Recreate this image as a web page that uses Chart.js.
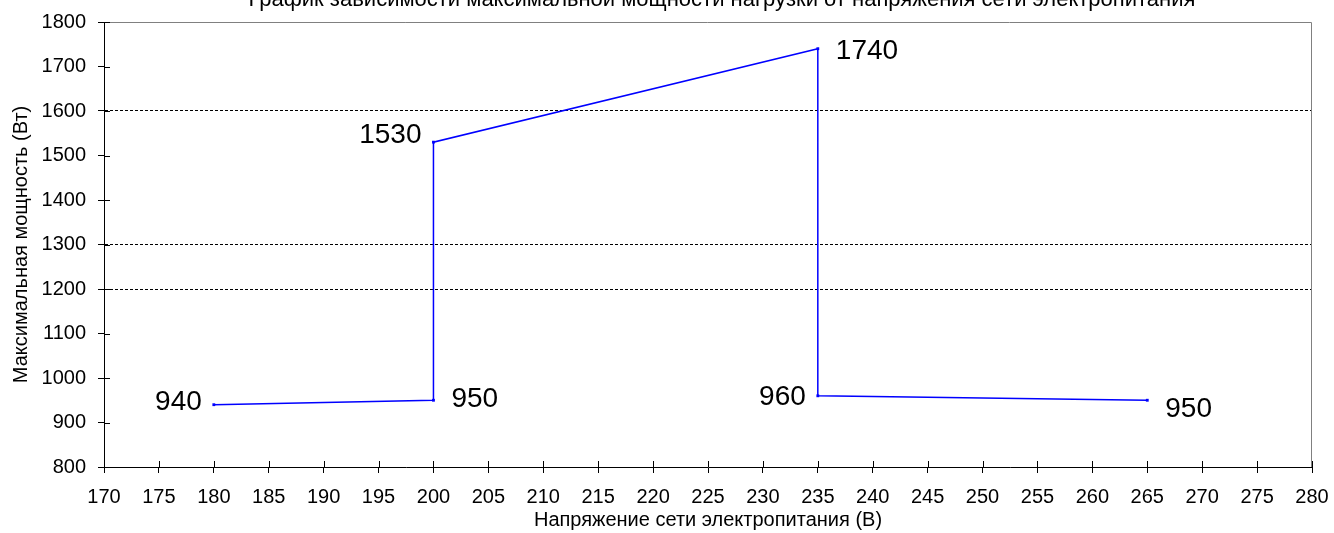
<!DOCTYPE html>
<html>
<head>
<meta charset="utf-8">
<script src="https://cdn.jsdelivr.net/npm/chart.js@4.4.0/dist/chart.umd.min.js"></script>
<style>
  html, body { margin: 0; padding: 0; background: #fff; }
  #wrap { width: 1334px; height: 533px; }
</style>
</head>
<body>
<div id="wrap"><canvas id="chart" width="1334" height="533"></canvas></div>
<script>
const voltage = [180, 200, 200, 235, 235, 265];
const power = [940, 950, 1530, 1740, 960, 950];
const labelSide = ['left', 'right', 'left', 'right', 'left', 'right'];
const labelNudge = [-2, -1, -7, 3, 1, 9];
const xTicks = { min: 170, max: 280, step: 5 };
const yTicks = { min: 800, max: 1800, step: 100 };
const gridAt = [1200, 1300, 1600];

const titleText = 'График зависимости максимальной мощности нагрузки от напряжения сети электропитания';
const xTitle = 'Напряжение сети электропитания (В)';
const yTitle = 'Максимальная мощность (Вт)';

const font = 'Liberation Sans, Arial, sans-serif';

// заголовок, рамка и внутренние половинки делений
const extras = {
  id: 'extras',
  afterDraw(chart) {
    const c = chart.ctx;
    const a = chart.chartArea;
    c.save();
    c.strokeStyle = '#808080';
    c.lineWidth = 1;
    c.beginPath();
    c.moveTo(a.left, a.top + 0.5);
    c.lineTo(a.right - 0.5, a.top + 0.5);
    c.lineTo(a.right - 0.5, a.bottom);
    c.stroke();

    c.strokeStyle = '#000';
    c.beginPath();
    chart.scales.y.ticks.forEach(t => {
      const y = Math.round(chart.scales.y.getPixelForValue(t.value)) + 0.5;
      c.moveTo(a.left, y);
      c.lineTo(a.left + 6, y);
    });
    chart.scales.x.ticks.forEach(t => {
      const x = Math.round(chart.scales.x.getPixelForValue(t.value)) + 0.5;
      c.moveTo(x, a.bottom);
      c.lineTo(x, a.bottom - 6);
    });
    c.stroke();

    c.fillStyle = '#000';
    c.font = '22px ' + font;
    c.textAlign = 'center';
    c.textBaseline = 'alphabetic';
    c.fillText(titleText, 722, 6);

    // подписи значений
    const meta = chart.getDatasetMeta(0);
    c.font = '28px ' + font;
    c.textBaseline = 'middle';
    meta.data.forEach((pt, i) => {
      const left = labelSide[i] === 'left';
      c.textAlign = left ? 'right' : 'left';
      c.fillText(String(power[i]), pt.x + (left ? -12 : 18), pt.y + labelNudge[i]);
    });
    c.restore();
  }
};

new Chart(document.getElementById('chart'), {
  type: 'scatter',
  data: {
    datasets: [{
      data: voltage.map((v, i) => ({ x: v, y: power[i] })),
      showLine: true,
      borderColor: '#0000ff',
      backgroundColor: '#0000ff',
      borderWidth: 1.5,
      pointStyle: 'rect',
      pointRadius: 2,
      pointBorderWidth: 0,
      tension: 0
    }]
  },
  options: {
    responsive: false,
    animation: false,
    layout: { padding: { top: 22, right: 22, left: 0, bottom: 0 } },
    plugins: { legend: { display: false }, tooltip: { enabled: false }, title: { display: false } },
    scales: {
      x: {
        type: 'linear',
        min: xTicks.min,
        max: xTicks.max,
        afterFit: s => { s.height = 66; s.paddingRight = 0; s.paddingLeft = 0; },
        ticks: { stepSize: xTicks.step, color: '#000', font: { family: font, size: 20 }, padding: 12, maxRotation: 0, autoSkip: false, callback: v => String(v) },
        grid: { display: true, drawOnChartArea: false, tickLength: 6, tickColor: '#000', tickWidth: 1 },
        border: { color: '#000', width: 1 },
        title: { display: true, text: xTitle, color: '#000', font: { family: font, size: 20 }, padding: { top: 0, bottom: 1 } }
      },
      y: {
        min: yTicks.min,
        max: yTicks.max,
        afterFit: s => { s.width = 104; s.paddingTop = 0; s.paddingBottom = 0; },
        ticks: { stepSize: yTicks.step, color: '#000', font: { family: font, size: 20 }, padding: 12, callback: v => String(v) },
        grid: {
          color: ctx => gridAt.includes(ctx.tick && ctx.tick.value) ? '#000' : 'rgba(0,0,0,0)',
          lineWidth: 1,
          tickLength: 6,
          tickColor: '#000',
          tickBorderDash: []
        },
        border: { color: '#000', width: 1, dash: [3, 2] },
        title: { display: true, text: yTitle, color: '#000', font: { family: font, size: 20 }, padding: { top: 9, bottom: 0 } }
      }
    }
  },
  plugins: [extras]
});
</script>
</body>
</html>
